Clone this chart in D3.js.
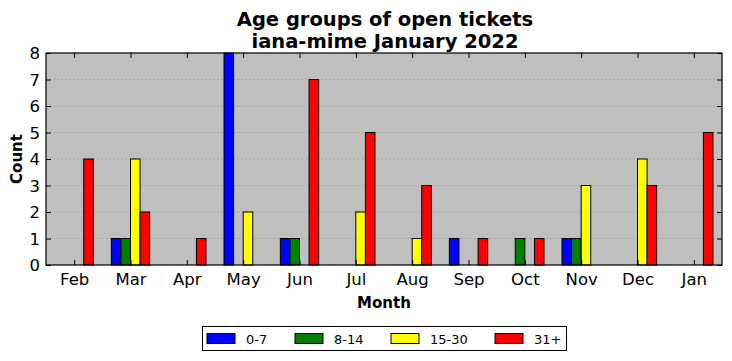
<!DOCTYPE html>
<html><head><meta charset="utf-8">
<script src="https://cdn.jsdelivr.net/npm/d3@7"></script>
<style>body{margin:0;background:#fff}svg{display:block}text{font-family:"DejaVu Sans",sans-serif}</style>
</head><body>
<svg id="c" width="732" height="361"></svg>
<script>
const months = ["Feb","Mar","Apr","May","Jun","Jul","Aug","Sep","Oct","Nov","Dec","Jan"];
const seriesNames = ["0-7","8-14","15-30","31+"];
const seriesColors = ["#0000ff","#008000","#ffff00","#ff0000"];
const s0_7   = [0,1,0,8,1,0,0,1,0,1,0,0];
const s8_14  = [0,1,0,0,1,0,0,0,1,1,0,0];
const s15_30 = [0,4,0,2,0,2,1,0,0,3,4,0];
const s31    = [4,2,1,0,7,5,3,1,1,0,3,5];
const yTicks = [0,1,2,3,4,5,6,7,8];
const seriesValues = [s0_7, s8_14, s15_30, s31];

const svg = d3.select("#c");
const L = 46, R = 722, T = 53, B = 265;
const x = d3.scaleLinear().domain([-0.5, 11.5]).range([L, R]);
const y = d3.scaleLinear().domain([0, 8]).range([B, T]);
const bw = 0.17;

svg.append("rect").attr("x", L).attr("y", T).attr("width", R-L).attr("height", B-T).attr("fill", "#bfbfbf");

// grid
svg.append("g").selectAll("line").data(yTicks.slice(1, -1)).join("line")
  .attr("x1", L).attr("x2", R).attr("y1", d => y(d)).attr("y2", d => y(d))
  .attr("stroke", "#888").attr("stroke-width", 0.8).attr("stroke-dasharray", "1,3");

// bars
seriesValues.forEach((vals, si) => {
  svg.append("g").selectAll("rect").data(vals).join("rect")
    .attr("x", (d, i) => x(i + (si - 2) * bw))
    .attr("width", x(bw) - x(0))
    .attr("y", d => y(d))
    .attr("height", d => y(0) - y(d))
    .attr("fill", seriesColors[si])
    .attr("stroke", "#000").attr("stroke-width", 1);
});

// axes
const ax = svg.append("g").attr("transform", `translate(0,${B})`)
  .call(d3.axisBottom(x).tickValues(d3.range(12)).tickFormat(i => months[i]).tickSizeInner(-5).tickSizeOuter(0).tickPadding(8));
const axT = svg.append("g").attr("transform", `translate(0,${T})`)
  .call(d3.axisTop(x).tickValues(d3.range(12)).tickFormat("").tickSizeInner(-5).tickSizeOuter(0));
const ay = svg.append("g").attr("transform", `translate(${L},0)`)
  .call(d3.axisLeft(y).tickValues(yTicks).tickSizeInner(-5).tickSizeOuter(0).tickPadding(6));
const ayR = svg.append("g").attr("transform", `translate(${R},0)`)
  .call(d3.axisRight(y).tickValues(yTicks).tickFormat("").tickSizeInner(-5).tickSizeOuter(0));
[ax, axT, ay, ayR].forEach(g => {
  g.select(".domain").remove();
  g.selectAll("text").attr("font-size", 16.5).attr("fill", "#000").attr("font-family", "DejaVu Sans");
  g.selectAll("line").attr("stroke", "#000");
});
ay.selectAll("text").attr("dy", "0.35em");

svg.append("rect").attr("x", L).attr("y", T).attr("width", R-L).attr("height", B-T)
  .attr("fill", "none").attr("stroke", "#000").attr("stroke-width", 1.2);

// titles
svg.append("text").attr("x", (L+R)/2 + 1).attr("y", 26).attr("text-anchor", "middle")
  .attr("font-size", 19.5).attr("font-weight", "bold").text("Age groups of open tickets");
svg.append("text").attr("x", (L+R)/2 + 1).attr("y", 48).attr("text-anchor", "middle")
  .attr("font-size", 19.5).attr("font-weight", "bold").text("iana-mime January 2022");
svg.append("text").attr("x", (L+R)/2).attr("y", 308).attr("text-anchor", "middle")
  .attr("font-size", 15).attr("font-weight", "bold").text("Month");
svg.append("text").attr("transform", `translate(22,${(T+B)/2}) rotate(-90)`).attr("text-anchor", "middle")
  .attr("font-size", 15).attr("font-weight", "bold").text("Count");

// legend
const lg = svg.append("g");
lg.append("rect").attr("x", 202.5).attr("y", 326.5).attr("width", 364).attr("height", 24)
  .attr("fill", "#fff").attr("stroke", "#000");
const lx = [207, 295, 391, 495];
seriesNames.forEach((n, i) => {
  lg.append("rect").attr("x", lx[i]).attr("y", 333.5).attr("width", 28).attr("height", 10)
    .attr("fill", seriesColors[i]).attr("stroke", "#000");
  lg.append("text").attr("x", lx[i] + 39).attr("y", 343.5).attr("font-size", 13).text(n);
});
</script>
</body></html>
